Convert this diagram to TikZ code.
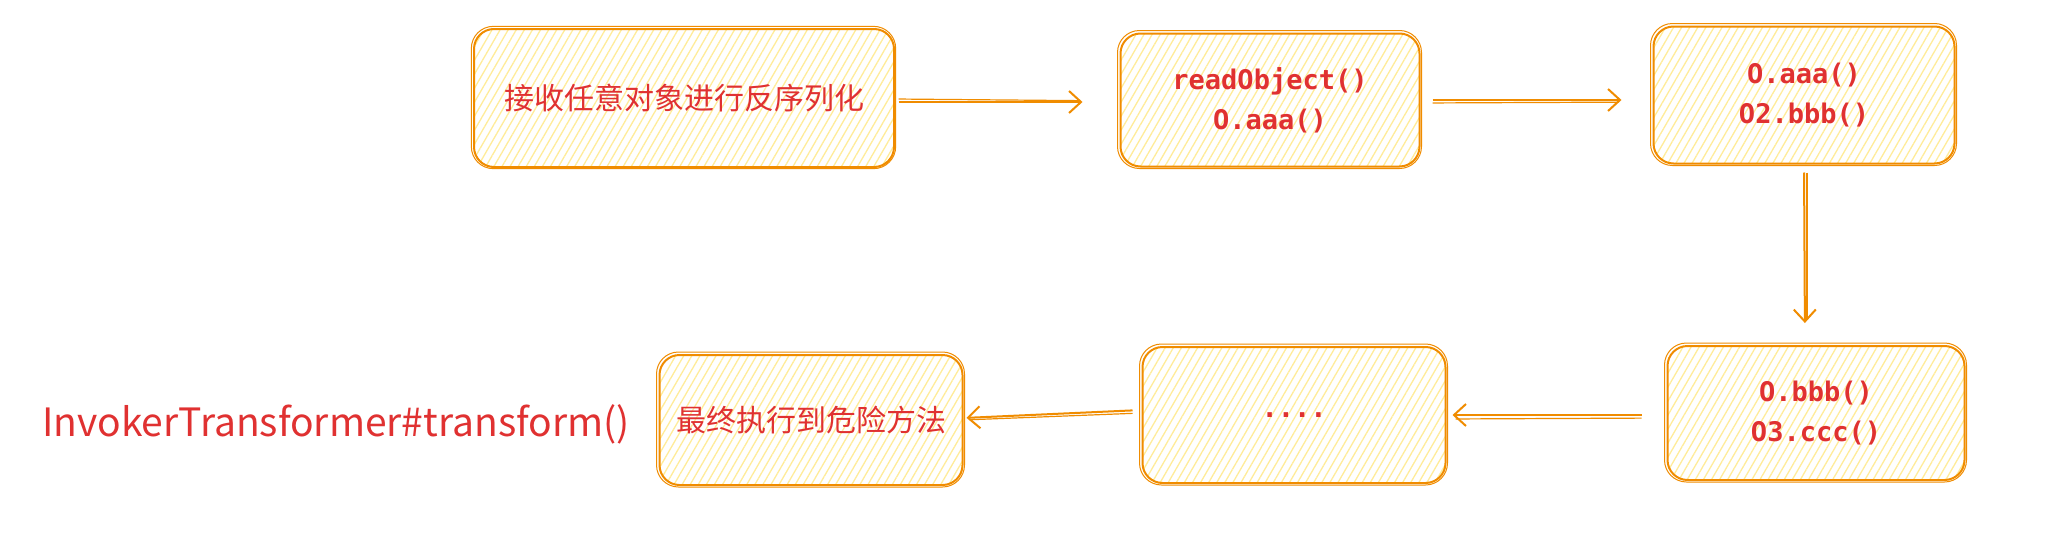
\documentclass[tikz,border=0pt]{standalone}
\usepackage{fontspec}
\newfontfamily\cjk{Noto Sans CJK SC}
\newfontfamily\codefont{DejaVu Sans Mono}
\usetikzlibrary{patterns.meta,arrows.meta}
\definecolor{strk}{HTML}{F08C00}
\definecolor{hach}{HTML}{FFEC99}
\definecolor{txt}{HTML}{E03131}
\tikzset{
  box/.style={draw=strk, line width=2pt, rounded corners=20pt,
    pattern={Lines[angle=60,distance=7pt,line width=1.3pt]}, pattern color=hach,
    text=txt, align=center, inner sep=0pt},
  outl/.style={draw=strk, line width=1pt, rounded corners=22pt},
  cjktext/.style={font=\cjk\fontsize{30}{36}\selectfont},
  codetext/.style={font=\codefont\bfseries\fontsize{27}{40}\selectfont},
  arr/.style={draw=strk, line width=2pt, -{Straight Barb[length=12pt,width=22pt,line width=2pt]}},
  arrl/.style={draw=strk, line width=1.2pt},
}
\begin{document}
\begin{tikzpicture}[x=1pt,y=-1pt]
\useasboundingbox[fill=white] (0,0) rectangle (2048,546);
\node[box,cjktext,minimum width=420pt,minimum height=138pt] (b1) at (684,98) {接收任意对象进行反序列化};
\node[box,codetext,minimum width=299pt,minimum height=133pt] (b2) at (1270,100) {readObject()\\O.aaa()};
\node[box,codetext,minimum width=301pt,minimum height=137pt] (b3) at (1804,95) {O.aaa()\\O2.bbb()};
\node[box,codetext,minimum width=297pt,minimum height=134pt] (b4) at (1816,413) {O.bbb()\\O3.ccc()};
\node[box,codetext,minimum width=303pt,minimum height=136pt] (b5) at (1294,415) {....};
\node[box,cjktext,minimum width=303pt,minimum height=130pt] (b6) at (811,420) {最终执行到危险方法};
\node[text=txt,font=\cjk\fontsize{39}{45}\selectfont,inner sep=0pt] (inv) at (336,424) {InvokerTransformer\#transform()};
% sketchy second outlines
\foreach \n in {b1,b2,b3,b4,b5,b6}{
  \draw[outl] ([shift={(-2pt,-1pt)}]\n.south west) rectangle ([shift={(1pt,2pt)}]\n.north east);
}
% connectors
\draw[arr,shorten <=4pt,shorten >=37pt] ([yshift=-4pt]b1.east) -- ([yshift=-2pt]b2.west);
\draw[arrl,shorten <=4pt,shorten >=40pt] ([yshift=-1pt]b1.east) -- ([yshift=-1pt]b2.west);
\draw[arr,shorten <=12pt,shorten >=31pt] (b2.east) -- ([yshift=-5pt]b3.west);
\draw[arrl,shorten <=12pt,shorten >=34pt] ([yshift=-3pt]b2.east) -- ([yshift=-7pt]b3.west);
\draw[arr,shorten <=8pt,shorten >=22pt] (b3.south) -- ([xshift=-11pt]b4.north);
\draw[arrl,shorten <=8pt,shorten >=25pt] ([xshift=3pt]b3.south) -- ([xshift=-9pt]b4.north);
\draw[arr,shorten <=25pt,shorten >=6pt] ([yshift=-2pt]b4.west) -- (b5.east);
\draw[arrl,shorten <=25pt,shorten >=9pt] ([yshift=-5pt]b4.west) -- ([yshift=-4pt]b5.east);
\draw[arr,shorten <=9pt,shorten >=3pt] ([yshift=5pt]b5.west) -- ([yshift=2pt]b6.east);
\draw[arrl,shorten <=9pt,shorten >=6pt] ([yshift=2pt]b5.west) -- ([yshift=0pt]b6.east);
\end{tikzpicture}
\end{document}
